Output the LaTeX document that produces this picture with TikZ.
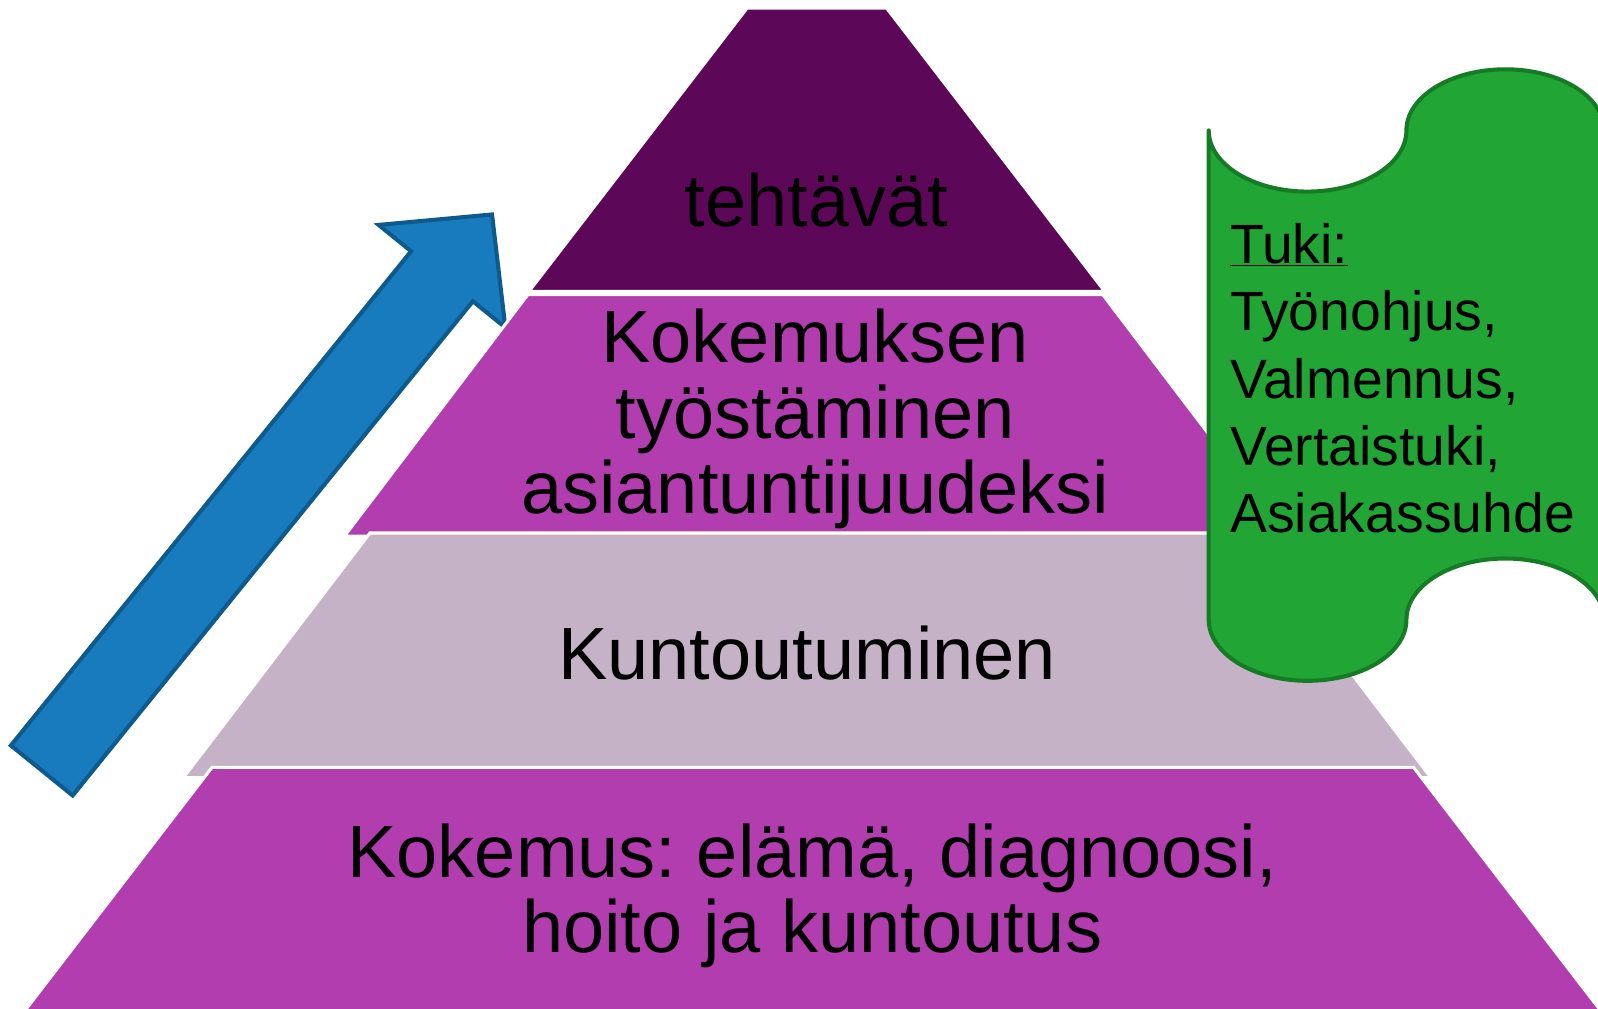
\documentclass[tikz,border=0pt]{standalone}
\usepackage{fontspec}
\setmainfont{Liberation Sans}
\usetikzlibrary{calc}
\definecolor{topviolet}{HTML}{5C0757}
\definecolor{midviolet}{HTML}{B13DAE}
\definecolor{lilac}{HTML}{C5B2C6}
\definecolor{arrowblue}{HTML}{177BBE}
\definecolor{arrowedge}{HTML}{0F5A8C}
\definecolor{scrollgreen}{HTML}{21A535}
\definecolor{scrolledge}{HTML}{167B25}
\def\bigtext{\fontsize{72.6}{74}\selectfont}
\def\smalltext{\fontsize{54.3}{66}\selectfont}
\frenchspacing

\begin{document}
\begin{tikzpicture}[x=1pt, y=-1pt,
	layer/.style={draw=white, line width=3, line join=miter},
	lbl/.style={inner sep=0, font=\bigtext, align=center}]
			%%%%% START %%%%%
			\useasboundingbox (0,0) rectangle (1568,990);
			
			% arrow
			\begin{scope}[shift={(41,756)}, rotate=51]
			\draw[fill=arrowblue, draw=arrowedge, line width=4, line join=miter] (0,-39) -- (624,-39) -- (624,-80) -- (702,0) -- (624,80) -- (624,39) -- (0,39) -- cycle;
			\end{scope}
			
			% pyramid
			\draw[layer, fill=topviolet] (733,8) -- (870,8) -- (1084,286) -- (519,286) -- cycle;
			\draw[layer, fill=midviolet] (518,289) -- (1082,289) -- (1262,526) -- (338,526) -- cycle;
			\draw[layer, fill=lilac] (363,523) -- (1221,523) -- (1404,763) -- (180,763) -- cycle;
			\draw[layer, fill=midviolet] (208,753) -- (1387,753) -- (1577,1000) -- (18,1000) -- cycle;
			
			\node[lbl, anchor=base] (tasks) at (801,222) {tehtävät};
			\node[lbl, anchor=north] (work) at (800,303) {Kokemuksen\\työstäminen\\asiantuntijuudeksi};
			\node[lbl, anchor=base] (rehab) at (792,667) {Kuntoutuminen};
			\node[lbl, anchor=north] (exp) at (797,808) {Kokemus: elämä, diagnoosi,\\hoito ja kuntoutus};
			
			% scroll
			\draw[fill=scrollgreen, draw=scrolledge, line width=4, line join=round] (1186,608) -- (1186,128)
				arc[start angle=180, end angle=0, x radius=97, y radius=60]
				arc[start angle=180, end angle=360, x radius=97, y radius=60]
				-- (1610,128) -- (1610,608) -- (1574,608)
				arc[start angle=0, end angle=-180, x radius=97, y radius=60]
				arc[start angle=0, end angle=180, x radius=97, y radius=60] -- cycle;
			\node[inner sep=0, font=\smalltext, align=left, anchor=north west] (support) at (1207,219) {\underline{Tuki:}\\Työnohjus,\\Valmennus,\\Vertaistuki,\\Asiakassuhde};
			%%%%% END %%%%%
\end{tikzpicture}
\end{document}
